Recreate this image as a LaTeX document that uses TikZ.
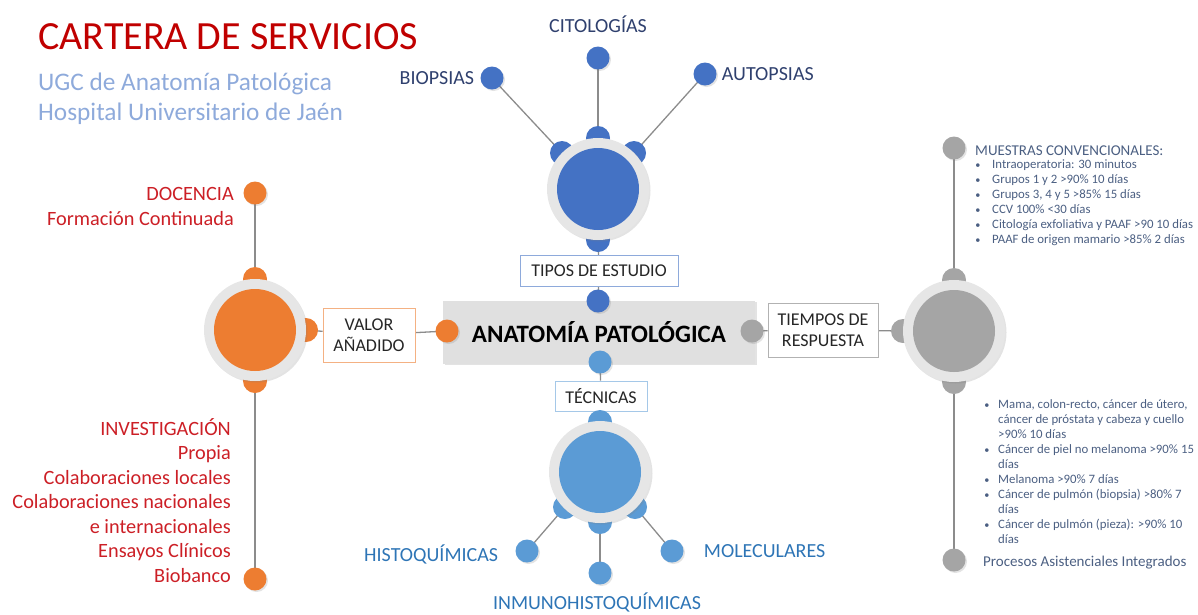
\documentclass[tikz,border=0pt]{standalone}
\usepackage{fontspec}
\setmainfont{Carlito}
\usetikzlibrary{shadows}
\definecolor{cblue}{HTML}{4472C4}
\definecolor{clblue}{HTML}{5B9BD5}
\definecolor{corange}{HTML}{ED7D31}
\definecolor{cgray}{HTML}{A5A5A5}
\definecolor{ringgray}{HTML}{E6E6E6}
\definecolor{boxgray}{HTML}{E0E0E0}
\definecolor{linegray}{HTML}{8C8C8C}
\definecolor{titlered}{HTML}{C00000}
\definecolor{labred}{HTML}{CC1F26}
\definecolor{subblue}{HTML}{8EAADB}
\definecolor{navy}{HTML}{2F406E}
\definecolor{midblue}{HTML}{2E75B6}
\definecolor{slate}{HTML}{4B5F82}
\definecolor{darktxt}{HTML}{262626}
\pgfdeclarelayer{bg}
\pgfsetlayers{bg,main}
\begin{document}
\begin{tikzpicture}[x=1pt,y=-1pt,
  conn/.style={draw=linegray, line width=1.3pt},
  shad/.style={drop shadow={shadow xshift=1.5pt, shadow yshift=-1.5pt, opacity=0.22}},
  dot/.style={circle, inner sep=0pt, minimum size=23pt, fill=#1, shad},
  tab/.style={circle, inner sep=0pt, minimum size=24pt, fill=#1},
  ring/.style={circle, inner sep=0pt, minimum size=102pt, fill=ringgray, shad},
  hub/.style={circle, inner sep=0pt, minimum size=82pt, fill=#1},
  lbl/.style={font=\fontsize{20}{24}\selectfont, inner sep=0pt},
  boxlbl/.style={draw=#1, fill=white, line width=0.9pt, align=center, inner sep=0pt,
     text=darktxt, font=\fontsize{18}{21}\selectfont},
  rtxt/.style={font=\fontsize{12.8}{15}\selectfont, text=slate, inner sep=0pt},
  redtxt/.style={font=\fontsize{20.3}{24}\selectfont, text=labred, inner sep=0pt, anchor=base east}
]
\useasboundingbox (0,0) rectangle (1198,614);

% Title
\node[anchor=base west, inner sep=0pt, text=titlered, font=\fontsize{40}{48}\selectfont] (title) at (38,49) {CARTERA DE SERVICIOS};
\node[anchor=base west, inner sep=0pt, text=subblue, font=\fontsize{25.3}{30}\selectfont] (sub1) at (38,90) {UGC de Anatomía Patológica};
\node[anchor=base west, inner sep=0pt, text=subblue, font=\fontsize{25.3}{30}\selectfont] (sub2) at (38,120) {Hospital Universitario de Jaén};

% Center box
\node[rectangle, fill=boxgray, minimum width=312pt, minimum height=63pt, inner sep=0pt, shad,
  font=\bfseries\fontsize{25}{30}\selectfont, text=black] (center) at (599,332) {ANATOMÍA PATOLÓGICA};
\node[dot=cblue] (ctop) at (598,301) {};
\node[dot=clblue] (cbot) at (600,362) {};
\node[dot=corange] (cleft) at (447,331) {};
\node[dot=cgray] (cright) at (752,331) {};

% Text boxes
\node[boxlbl=subblue, minimum width=158pt, minimum height=31pt] (tipos) at (599,271) {TIPOS DE ESTUDIO};
\node[boxlbl={clblue!55}, minimum width=92pt, minimum height=30pt] (tecnicas) at (601,396) {TÉCNICAS};
\node[boxlbl={corange!60}, minimum width=92pt, minimum height=54pt] (valor) at (369,335) {VALOR\\AÑADIDO};
\node[boxlbl={black!30}, minimum width=110pt, minimum height=54pt] (tiempos) at (823,330) {TIEMPOS DE\\RESPUESTA};

% Blue cluster
\node[tab=cblue] (bt) at (598,138) {};
\node[tab=cblue] (btl) at (562,153) {};
\node[tab=cblue] (btr) at (634,153) {};
\node[tab=cblue] (bb) at (598,240) {};
\node[ring] (bring) at (598,189) {};
\node[hub=cblue] (bhub) at (598,189) {};
\node[dot=cblue] (bio) at (492,78) {};
\node[dot=cblue] (cit) at (598,58) {};
\node[dot=cblue] (aut) at (705,74) {};
\node[lbl, text=navy, anchor=east] (biol) at ([xshift=-6pt]bio.west) {BIOPSIAS};
\node[lbl, text=navy, anchor=base] (citl) at (598,32) {CITOLOGÍAS};
\node[lbl, text=navy, anchor=west] (autl) at ([xshift=5pt]aut.east) {AUTOPSIAS};

% Light blue cluster
\node[tab=clblue] (lt) at (600,422) {};
\node[tab=clblue] (lbl) at (565,507) {};
\node[tab=clblue] (lbr) at (635,507) {};
\node[tab=clblue] (lb) at (600,522) {};
\node[ring] (lring) at (600,472) {};
\node[hub=clblue] (lhub) at (600,472) {};
\node[dot=clblue] (histo) at (527,551) {};
\node[dot=clblue] (inmuno) at (600,573) {};
\node[dot=clblue] (mol) at (672,551) {};
\node[lbl, text=midblue, anchor=east] (histol) at ([xshift=-17pt,yshift=-3pt]histo.west) {HISTOQUÍMICAS};
\node[lbl, text=midblue, anchor=west] (moll) at ([xshift=20pt]mol.east) {MOLECULARES};
\node[lbl, text=midblue, anchor=base] (inmunol) at (597,609) {INMUNOHISTOQUÍMICAS};

% Orange cluster
\node[tab=corange] (ot) at (255,279) {};
\node[tab=corange] (or) at (306,330) {};
\node[tab=corange] (ob) at (255,381) {};
\node[ring] (oring) at (255,330) {};
\node[hub=corange] (ohub) at (255,330) {};
\node[dot=corange] (doc) at (255,193) {};
\node[dot=corange] (inv) at (255,579) {};
\node[redtxt] (docl1) at (234,200) {DOCENCIA};
\node[redtxt] (docl2) at (234,225) {Formación Continuada};
\foreach \t [count=\i] in {INVESTIGACIÓN,Propia,Colaboraciones locales,Colaboraciones nacionales,e internacionales,Ensayos Clínicos,Biobanco}
  \node[redtxt] (invl\i) at (231,{435+24.5*(\i-1)}) {\t};

% Gray cluster
\node[tab=cgray] (gl) at (903,331) {};
\node[tab=cgray] (gt) at (954,280) {};
\node[tab=cgray] (gb) at (954,382) {};
\node[ring] (gring) at (954,331) {};
\node[hub=cgray] (ghub) at (954,331) {};
\node[dot=cgray] (mue) at (954,148) {};
\node[dot=cgray] (pro) at (954,560) {};
\node[anchor=base west, inner sep=0pt, text=slate, font=\fontsize{15}{18}\selectfont] (muel) at (975,155) {MUESTRAS CONVENCIONALES:};
\foreach \t [count=\i] in {{Intraoperatoria: 30 minutos},{Grupos 1 y 2 >90\%  10 días},{Grupos 3, 4 y 5 >85\% 15 días},{CCV 100\% <30 días},{Citología exfoliativa y PAAF >90 10 días},{PAAF de origen mamario >85\% 2 días}}{
  \node[rtxt, anchor=base west] (mt\i) at (992,{168+15*(\i-1)}) {\t};
  \node[rtxt, anchor=base, scale=0.8] (mb\i) at (978,{168+15*(\i-1)}) {\textbullet};
}
\foreach \t [count=\i] in {{Mama, colon-recto, cáncer de útero,},{cáncer de próstata y cabeza y cuello},{>90\% 10 días},{Cáncer de piel no melanoma >90\% 15},{días},{Melanoma >90\% 7 días},{Cáncer de pulmón (biopsia) >80\% 7},{días},{Cáncer de pulmón (pieza): >90\% 10},{días}}
  \node[rtxt, anchor=base west] (pt\i) at (998,{408+15*(\i-1)}) {\t};
\foreach \i in {1,4,6,7,9}
  \node[rtxt, anchor=base, scale=0.8] (pb\i) at (987,{408+15*(\i-1)}) {\textbullet};
\node[anchor=base west, inner sep=0pt, text=slate, font=\fontsize{15}{18}\selectfont] (prol) at (983,566) {Procesos Asistenciales Integrados};

% Connectors
\begin{pgfonlayer}{bg}
  \draw[conn] (bt.center) -- (cit.center);
  \draw[conn] (btl.center) -- (bio.center);
  \draw[conn] (btr.center) -- (aut.center);
  \draw[conn] (bb.center) -- (tipos) -- (ctop.center);
  \draw[conn] (cbot.center) -- (tecnicas) -- (lt.center);
  \draw[conn] (lb.center) -- (inmuno.center);
  \draw[conn] (lbl.center) -- (histo.center);
  \draw[conn] (lbr.center) -- (mol.center);
  \draw[conn] (or.center) -- (valor) -- (cleft.center);
  \draw[conn] (ot.center) -- (doc.center);
  \draw[conn] (ob.center) -- (inv.center);
  \draw[conn] (cright.center) -- (tiempos) -- (gl.center);
  \draw[conn] (gt.center) -- (mue.center);
  \draw[conn] (gb.center) -- (pro.center);
\end{pgfonlayer}
\end{tikzpicture}
\end{document}
